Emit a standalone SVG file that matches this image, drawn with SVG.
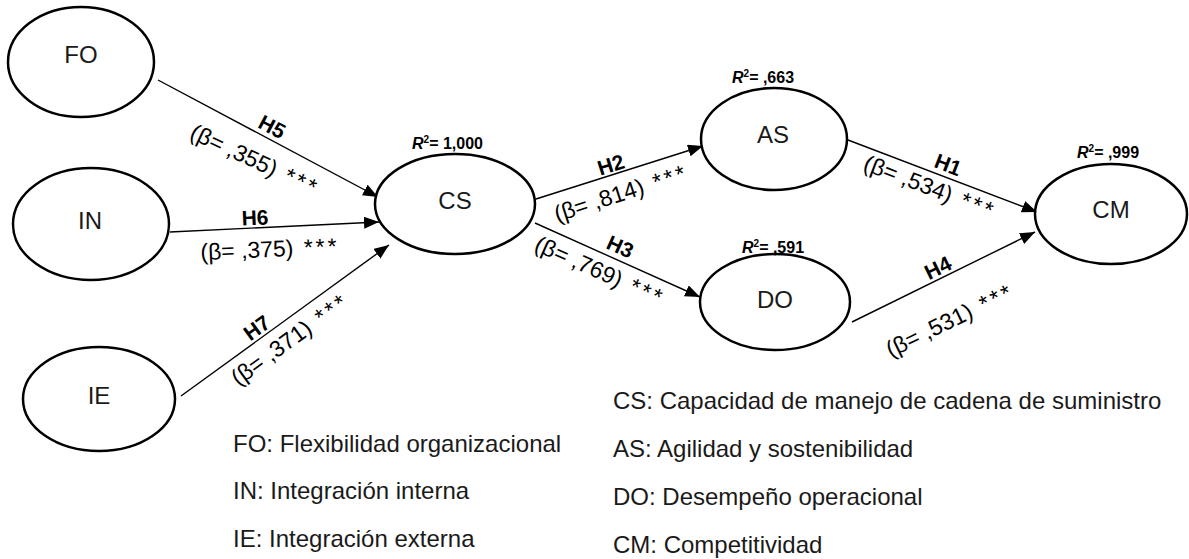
<svg xmlns="http://www.w3.org/2000/svg" width="1189" height="559" viewBox="0 0 1189 559">
<defs>
<style>
.node{fill:#fff;stroke:#000;stroke-width:2.5}
.nl{font-family:"Liberation Sans",Arial,sans-serif;font-size:24px;fill:#1a1a1a;text-anchor:middle}
.edge{stroke:#000;stroke-width:1.4;fill:none;marker-end:url(#ah)}
.h{font-family:"Liberation Sans",Arial,sans-serif;font-size:21px;font-weight:bold;fill:#000;text-anchor:middle}
.b{font-family:"Liberation Sans",Arial,sans-serif;font-size:23px;fill:#000;text-anchor:middle}
.r2{font-family:"Liberation Sans",Arial,sans-serif;font-size:16px;font-weight:bold;fill:#000}
.leg{font-family:"Liberation Sans",Arial,sans-serif;font-size:24px;fill:#1a1a1a}
.st{letter-spacing:3px}
</style>
<marker id="ah" markerUnits="userSpaceOnUse" markerWidth="15" markerHeight="12" refX="15" refY="6" orient="auto">
<path d="M0,0 L15,6 L0,12 z" fill="#000"/>
</marker>
</defs>
<rect width="1189" height="559" fill="#fff"/>

<g id="connectors">
<line class="edge" x1="158" y1="80" x2="378" y2="197"/>
<line class="edge" x1="170" y1="232" x2="379" y2="222"/>
<line class="edge" x1="181" y1="396" x2="389" y2="245"/>
<line class="edge" x1="536" y1="199" x2="703" y2="146"/>
<line class="edge" x1="535" y1="223" x2="700" y2="297"/>
<line class="edge" x1="848" y1="140" x2="1037" y2="212"/>
<line class="edge" x1="852" y1="322" x2="1035" y2="232"/>

<text class="h" transform="translate(272,127) rotate(28)" y="7">H5</text>
<text class="b" transform="translate(255,160) rotate(25)" y="8">(β= ,355) <tspan class="st" dx="4">***</tspan></text>

<text class="h" transform="translate(255,218) rotate(-2.5)" y="7">H6</text>
<text class="b" transform="translate(270,249) rotate(-2.5)" y="8">(β= ,375) <tspan class="st" dx="4">***</tspan></text>

<text class="h" transform="translate(257,328) rotate(-36)" y="7">H7</text>
<text class="b" transform="translate(290,339) rotate(-36)" y="8">(β= ,371) <tspan class="st" dx="4">***</tspan></text>

<text class="h" transform="translate(611,165) rotate(-17.5)" y="7">H2</text>
<text class="b" transform="translate(621,193) rotate(-18)" y="8">(β= ,814) <tspan class="st" dx="4">***</tspan></text>

<text class="h" transform="translate(620,247) rotate(24)" y="7">H3</text>
<text class="b" transform="translate(600,271) rotate(24)" y="8">(β= ,769) <tspan class="st" dx="4">***</tspan></text>

<text class="h" transform="translate(948,165) rotate(21)" y="7">H1</text>
<text class="b" transform="translate(930,187) rotate(21)" y="8">(β= ,534) <tspan class="st" dx="4">***</tspan></text>

<text class="h" transform="translate(938,268) rotate(-26)" y="7">H4</text>
<text class="b" transform="translate(950,320) rotate(-26)" y="8">(β= ,531) <tspan class="st" dx="4">***</tspan></text>
</g>

<g id="node-FO">
<ellipse class="node" cx="81" cy="62" rx="73" ry="55"/>
<text class="nl" x="81" y="63">FO</text>
</g>
<g id="node-IN">
<ellipse class="node" cx="91" cy="224" rx="78" ry="56"/>
<text class="nl" x="90" y="229">IN</text>
</g>
<g id="node-IE">
<ellipse class="node" cx="99" cy="399" rx="76" ry="52"/>
<text class="nl" x="99" y="404">IE</text>
</g>
<g id="node-CS">
<ellipse class="node" cx="455" cy="204" rx="80" ry="50"/>
<text class="nl" x="455" y="209">CS</text>
<text class="r2" x="412" y="149"><tspan font-style="italic">R</tspan><tspan font-size="10" dy="-6">2</tspan><tspan dy="6">= 1,000</tspan></text>
</g>
<g id="node-AS">
<ellipse class="node" cx="774" cy="139" rx="73" ry="51"/>
<text class="nl" x="773" y="143">AS</text>
<text class="r2" x="732" y="83"><tspan font-style="italic">R</tspan><tspan font-size="10" dy="-6">2</tspan><tspan dy="6">= ,663</tspan></text>
</g>
<g id="node-DO">
<ellipse class="node" cx="775" cy="302" rx="75" ry="48"/>
<text class="nl" x="775" y="308">DO</text>
<text class="r2" x="742" y="253"><tspan font-style="italic">R</tspan><tspan font-size="10" dy="-6">2</tspan><tspan dy="6">= ,591</tspan></text>
</g>
<g id="node-CM">
<ellipse class="node" cx="1111" cy="214" rx="76" ry="50"/>
<text class="nl" x="1111" y="218">CM</text>
<text class="r2" x="1077" y="158"><tspan font-style="italic">R</tspan><tspan font-size="10" dy="-6">2</tspan><tspan dy="6">= ,999</tspan></text>
</g>

<g id="legend">
<text class="leg" x="233" y="452">FO: Flexibilidad organizacional</text>
<text class="leg" x="233" y="499">IN: Integración interna</text>
<text class="leg" x="233" y="547">IE: Integración externa</text>
<text class="leg" x="613" y="409">CS: Capacidad de manejo de cadena de suministro</text>
<text class="leg" x="613" y="457">AS: Agilidad y sostenibilidad</text>
<text class="leg" x="613" y="505">DO: Desempeño operacional</text>
<text class="leg" x="613" y="553">CM: Competitividad</text>
</g>
</svg>
